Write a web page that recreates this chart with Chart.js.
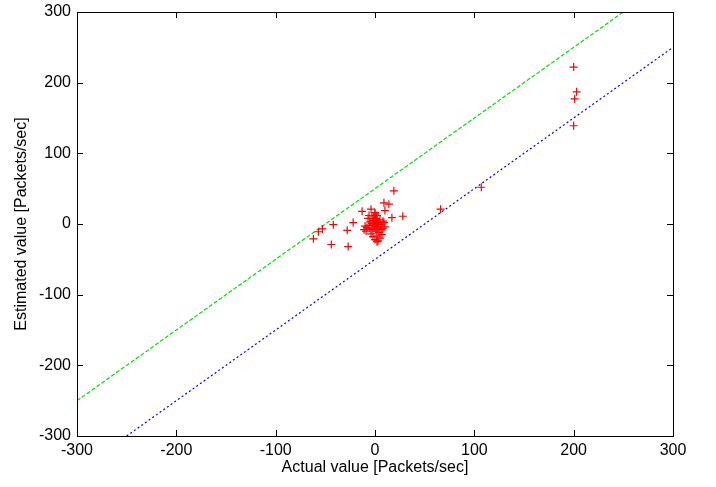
<!DOCTYPE html>
<html>
<head>
<meta charset="utf-8">
<script src="https://cdn.jsdelivr.net/npm/chart.js@4/dist/chart.umd.min.js"></script>
<style>
  html, body { margin: 0; padding: 0; background: #fff; }
  #wrap { width: 716px; height: 487px; }
</style>
</head>
<body>
<div id="wrap"><canvas id="scatter"></canvas></div>
<script>
// tick values on both axes
const tickValues = [-300, -200, -100, 0, 100, 200, 300];

// measured points: actual vs estimated (packets/sec)
const actualX = [
  19, 9, 14, -13, -4, 10, 28, 17, -22, -42, -53, -57, -62, -28, -44, -27,
  107, 66, 200, 203, 201, 200, 0, 5, 2,
  -8, -6, -5, -3, -2, -1, 0, 1, 2, 3, 4, 5, 6, 7, 8, -10, -9, -7, -4, -2,
  0, 1, 2, 3, 4, -1, -3, 0, 1, 2, 3, -5, 6, 8, 9, -11, -6, -1, 0, 2, 10
];
const estimatedY = [
  47, 30, 28, 18, 21, 19, 11, 9, 2, -1, -7, -11, -21, -9, -29, -32,
  52, 21, 222, 187, 177, 139, 16, -20, -25,
  -5, -2, 3, -8, 5, 0, -3, 8, -6, 2, -12, 6, -1, -15, 4, -3, -10, 8, -14, -18,
  -22, -10, 12, -4, 0, 10, 1, 5, -1, -17, -24, -6, -8, -6, 2, -8, 12, -6, 14, 3, -4
];

// reference lines: estimate = actual +/- 50
const greenX = [-300, 250];
const greenY = [-250, 300];
const blueX = [-250, 300];
const blueY = [-300, 250];

const FONT = { family: 'Liberation Sans, Arial, sans-serif', size: 16 };

// frame on all four sides and inward mirror ticks
const framePlugin = {
  id: 'frame',
  afterDatasetsDraw(chart) {
    const { ctx, chartArea: a, scales } = chart;
    ctx.save();
    ctx.strokeStyle = '#000';
    ctx.lineWidth = 1;
    ctx.strokeRect(Math.round(a.left) + 0.5, Math.round(a.top) + 0.5,
      Math.round(a.right - a.left), Math.round(a.bottom - a.top));
    const len = 6;
    ctx.beginPath();
    tickValues.forEach(v => {
      const px = Math.round(scales.x.getPixelForValue(v)) + 0.5;
      ctx.moveTo(px, a.bottom); ctx.lineTo(px, a.bottom - len);
      ctx.moveTo(px, a.top); ctx.lineTo(px, a.top + len);
      const py = Math.round(scales.y.getPixelForValue(v)) + 0.5;
      ctx.moveTo(a.left, py); ctx.lineTo(a.left + len, py);
      ctx.moveTo(a.right, py); ctx.lineTo(a.right - len, py);
    });
    ctx.stroke();
    ctx.restore();
  }
};

new Chart(document.getElementById('scatter'), {
  type: 'scatter',
  data: {
    datasets: [
      {
        label: 'points',
        data: actualX.map((x, i) => ({ x, y: estimatedY[i] })),
        pointStyle: 'cross',
        pointRadius: 4,
        borderColor: '#ff0000',
        backgroundColor: '#ff0000',
        borderWidth: 1.2
      },
      {
        label: 'upper',
        type: 'line',
        data: greenX.map((x, i) => ({ x, y: greenY[i] })),
        borderColor: '#00e000',
        borderWidth: 1.2,
        borderDash: [4, 2],
        pointRadius: 0
      },
      {
        label: 'lower',
        type: 'line',
        data: blueX.map((x, i) => ({ x, y: blueY[i] })),
        borderColor: '#0000ff',
        borderWidth: 1.2,
        borderDash: [2, 2.5],
        pointRadius: 0
      }
    ]
  },
  options: {
    responsive: true,
    maintainAspectRatio: false,
    animation: false,
    layout: { padding: { top: 12, right: 43, left: 0, bottom: 0 } },
    plugins: { legend: { display: false }, tooltip: { enabled: false } },
    scales: {
      x: {
        type: 'linear',
        min: -300,
        max: 300,
        afterBuildTicks: s => { s.ticks = tickValues.map(v => ({ value: v })); },
        afterFit: s => { s.height = 51; s.paddingLeft = 0; s.paddingRight = 0; },
        grid: { display: false, drawTicks: false },
        border: { display: false },
        ticks: { color: '#000', font: FONT, padding: 5, maxRotation: 0 },
        title: { display: true, text: 'Actual value [Packets/sec]', color: '#000', font: FONT, padding: { top: 0, bottom: 10 } }
      },
      y: {
        type: 'linear',
        min: -300,
        max: 300,
        afterBuildTicks: s => { s.ticks = tickValues.map(v => ({ value: v })); },
        afterFit: s => { s.width = 77; s.paddingTop = 0; s.paddingBottom = 0; },
        grid: { display: false, drawTicks: false },
        border: { display: false },
        ticks: { color: '#000', font: FONT, padding: 6 },
        title: { display: true, text: 'Estimated value [Packets/sec]', color: '#000', font: FONT, padding: { top: 12, bottom: 0 } }
      }
    }
  },
  plugins: [framePlugin]
});
</script>
</body>
</html>
